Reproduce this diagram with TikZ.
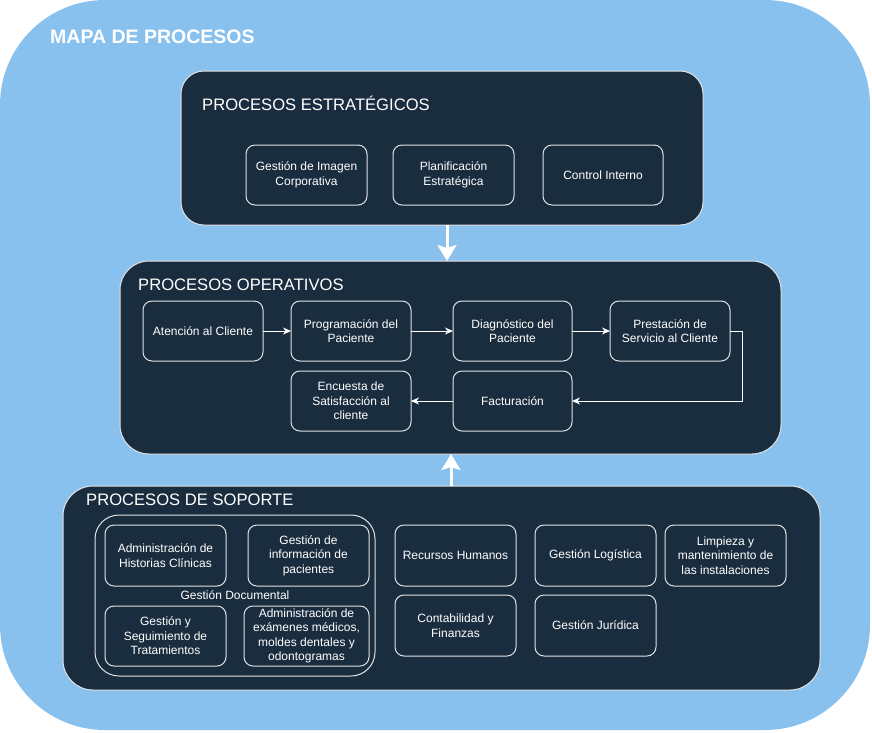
\documentclass[tikz,border=0pt]{standalone}
\usepackage{fontspec}
\setmainfont{Liberation Sans}
\usetikzlibrary{arrows.meta}
\definecolor{bgblue}{HTML}{89C1EE}
\definecolor{darkbox}{HTML}{1A2D3F}
\definecolor{edgegray}{HTML}{E2E2E2}
\tikzset{
  bigbox/.style={draw=edgegray, line width=1pt, fill=darkbox, inner sep=0pt, outer sep=0pt},
  pbox/.style={draw=edgegray, line width=1pt, rounded corners=9pt, inner sep=0pt, outer sep=0pt,
    minimum width=121pt, minimum height=60pt, align=center, text=white,
    font=\fontsize{12}{14.4}\selectfont},
  headtxt/.style={anchor=base west, inner sep=0pt, text=white, font=\fontsize{16.6}{19}\selectfont},
  flow/.style={draw=white, line width=1pt, -{Stealth[length=8pt,width=7pt,inset=2.5pt]}},
  bigarrow/.style={draw=white, line width=3pt, -{Stealth[length=16pt,width=19pt,inset=3pt]}}
}
\begin{document}
\begin{tikzpicture}[x=1pt,y=-1pt]
\useasboundingbox (0,0) rectangle (872,732);
% background
\node[fill=bgblue, rounded corners=105pt, minimum width=870pt, minimum height=730pt, inner sep=0pt] (bg) at (435,365) {};
\node[anchor=base west, inner sep=0pt, text=white, font=\fontsize{19.5}{22}\selectfont\bfseries] (title) at (50,43) {MAPA DE PROCESOS};

% strategic
\node[bigbox, rounded corners=23pt, minimum width=522pt, minimum height=154pt] (strat) at (442,148) {};
\node[headtxt] (strath) at (202,110) {PROCESOS ESTRATÉGICOS};
\node[pbox] (g1) at (306.5,175) {Gestión de Imagen\\Corporativa};
\node[pbox] (g2) at (453.5,175) {Planificación\\Estratégica};
\node[pbox, minimum width=120pt] (g3) at (603,175) {Control Interno};

% operative
\node[bigbox, rounded corners=29pt, minimum width=661pt, minimum height=193pt] (oper) at (450.5,357.5) {};
\node[headtxt] (operh) at (138,290) {PROCESOS OPERATIVOS};
\node[pbox, minimum width=120pt] (a1) at (203,331) {Atención al Cliente};
\node[pbox, minimum width=120pt] (a2) at (351,331) {Programación del\\Paciente};
\node[pbox, minimum width=119pt] (a3) at (512.5,331) {Diagnóstico del\\Paciente};
\node[pbox, minimum width=120pt] (a4) at (670,331) {Prestación de\\Servicio al Cliente};
\node[pbox, minimum width=120pt] (a5) at (351,401) {Encuesta de\\Satisfacción al\\cliente};
\node[pbox, minimum width=119pt] (a6) at (512.5,401) {Facturación};
\coordinate (k1) at (742,331);
\coordinate (k2) at (742,401);
\draw[flow] (a1) -- (a2);
\draw[flow] (a2) -- (a3);
\draw[flow] (a3) -- (a4);
\draw[flow] (a4.east) -- (k1) -- (k2) -- (a6.east);
\draw[flow] (a6) -- (a5);

% support
\node[bigbox, rounded corners=30pt, minimum width=757pt, minimum height=204pt] (sop) at (441.5,588) {};
\node[headtxt] (soph) at (86,505) {PROCESOS DE SOPORTE};
\node[draw=edgegray, line width=1pt, rounded corners=24pt, minimum width=280pt, minimum height=161pt, inner sep=0pt, outer sep=0pt] (gd) at (235,595.5) {};
\node[pbox, minimum height=61pt] (d1) at (165.5,555.5) {Administración de\\Historias Clínicas};
\node[pbox, minimum height=61pt] (d2) at (308.5,555.5) {Gestión de\\información de\\pacientes};
\node[text=white, inner sep=0pt, font=\fontsize{12}{14.4}\selectfont] (gdl) at (235,595) {Gestión Documental};
\node[pbox] (d3) at (165.5,636) {Gestión y\\Seguimiento de\\Tratamientos};
\node[pbox, minimum width=125pt] (d4) at (306.5,636) {Administración de\\exámenes médicos,\\moldes dentales y\\odontogramas};
\node[pbox, minimum height=61pt] (s1) at (455.5,555.5) {Recursos Humanos};
\node[pbox, minimum height=61pt] (s2) at (595.5,555.5) {Gestión Logística};
\node[pbox, minimum height=61pt] (s3) at (725.5,555.5) {Limpieza y\\mantenimiento de\\las instalaciones};
\node[pbox, minimum height=61pt] (s4) at (455.5,625.5) {Contabilidad y\\Finanzas};
\node[pbox, minimum height=61pt] (s5) at (595.5,625.5) {Gestión Jurídica};

% big arrows
\coordinate (ax) at (447,0);
\coordinate (bx) at (451,0);
\draw[bigarrow] (strat.south -| ax) -- (oper.north -| ax);
\draw[bigarrow] (sop.north -| bx) -- (oper.south -| bx);
\end{tikzpicture}
\end{document}
